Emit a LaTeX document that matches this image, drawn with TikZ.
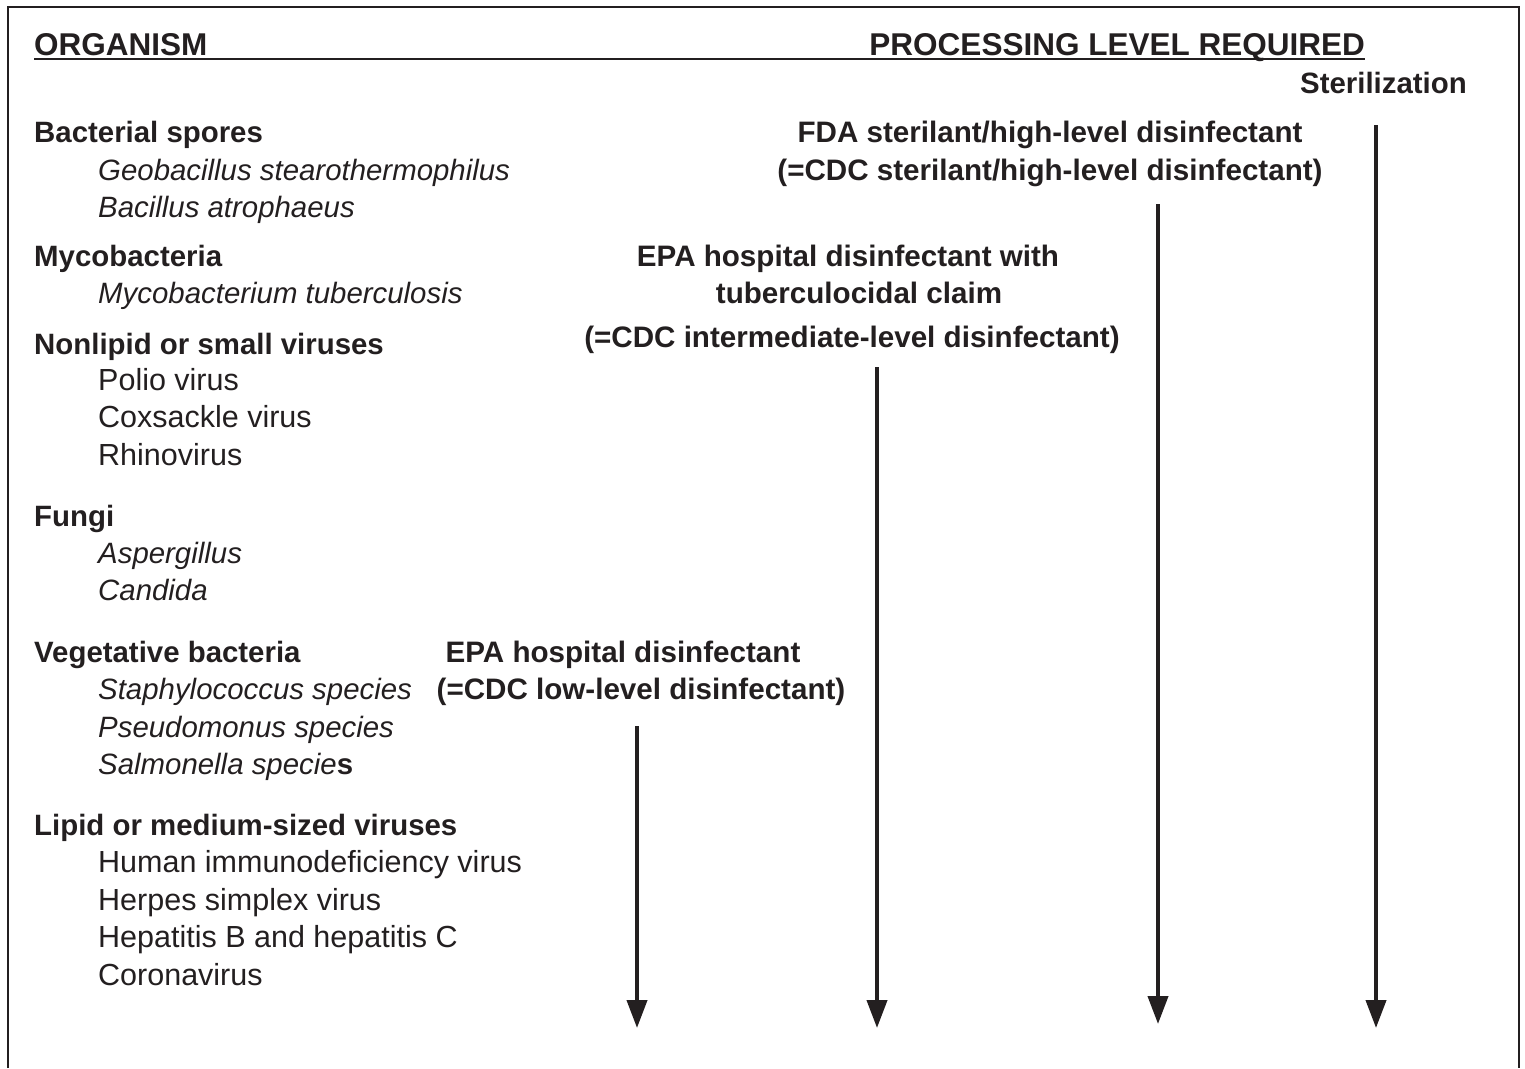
\documentclass[tikz,border=0pt]{standalone}
\usepackage{fontspec}
\setmainfont{Liberation Sans}
\usetikzlibrary{arrows.meta}
\definecolor{ink}{HTML}{231F20}
\tikzset{
  hdr/.style={anchor=base west, inner sep=0pt, font=\fontsize{31.5}{36}\selectfont\bfseries, text=ink},
  grp/.style={anchor=base west, inner sep=0pt, font=\fontsize{29.4}{34}\selectfont\bfseries, text=ink},
  item/.style={anchor=base west, inner sep=0pt, font=\fontsize{30.5}{34}\selectfont, text=ink},
  spec/.style={anchor=base west, inner sep=0pt, font=\fontsize{29.4}{34}\selectfont\itshape, text=ink},
  lvl/.style={anchor=base, inner sep=0pt, font=\fontsize{29.6}{34}\selectfont\bfseries, text=ink},
  flow/.style={line width=4pt, draw=ink, -{Triangle[width=20pt,length=28pt]}},
  frame/.style={line width=2pt, draw=ink}
}
\begin{document}
\begin{tikzpicture}[x=1pt,y=-1pt]
\useasboundingbox (0,0) rectangle (1525,1068);
\draw[frame] (8,1068) -- (8,7) -- (1519,7) -- (1519,1068);
% headers
\node[hdr] (org) at (34,55) {ORGANISM};
\node[hdr, anchor=base east] (plr) at (1365,55) {PROCESSING LEVEL REQUIRED};
\draw[line width=2pt, draw=ink] (org.base west) ++(0,3.5) coordinate (ul1) -- (ul1 -| plr.east);
\node[grp, anchor=base east] (ster) at (1467,93) {Sterilization};
% left column
\node[grp] (g1) at (34,142) {Bacterial spores};
\node[spec] (s11) at (98,180) {Geobacillus stearothermophilus};
\node[spec] (s12) at (98,217) {Bacillus atrophaeus};
\node[grp] (g2) at (34,266) {Mycobacteria};
\node[spec] (s21) at (98,303) {Mycobacterium tuberculosis};
\node[grp] (g3) at (34,354) {Nonlipid or small viruses};
\node[item] (s31) at (98,390) {Polio virus};
\node[item] (s32) at (98,427) {Coxsackle virus};
\node[item] (s33) at (98,465) {Rhinovirus};
\node[grp] (g4) at (34,526) {Fungi};
\node[spec] (s41) at (98,563) {Aspergillus};
\node[spec] (s42) at (98,600) {Candida};
\node[grp] (g5) at (34,662) {Vegetative bacteria};
\node[spec] (s51) at (98,699) {Staphylococcus species};
\node[spec] (s52) at (98,737) {Pseudomonus species};
\node[spec] (s53) at (98,774) {Salmonella specie{\upshape\bfseries s}};
\node[grp] (g6) at (34,835) {Lipid or medium-sized viruses};
\node[item] (s61) at (98,872) {Human immunodeficiency virus};
\node[item] (s62) at (98,910) {Herpes simplex virus};
\node[item] (s63) at (98,947) {Hepatitis B and hepatitis C};
\node[item] (s64) at (98,985) {Coronavirus};
% processing level labels
\node[lvl] (fda1) at (1050,142) {FDA sterilant/high-level disinfectant};
\node[lvl] (fda2) at (1050,180) {(=CDC sterilant/high-level disinfectant)};
\node[lvl] (tb1) at (848,266) {EPA hospital disinfectant with};
\node[lvl] (tb2) at (859,303) {tuberculocidal claim};
\node[lvl] (tb3) at (852,347) {(=CDC intermediate-level disinfectant)};
\node[lvl] (lo1) at (623,662) {EPA hospital disinfectant};
\node[lvl] (lo2) at (641,699) {(=CDC low-level disinfectant)};
% arrows
\coordinate (a1s) at (1376,125); \coordinate (a1e) at (1376,1028);
\coordinate (a2s) at (1158,204); \coordinate (a2e) at (1158,1024);
\coordinate (a3s) at (877,367);  \coordinate (a3e) at (877,1028);
\coordinate (a4s) at (637,726);  \coordinate (a4e) at (637,1028);
\draw[flow] (a1s) -- (a1e);
\draw[flow] (a2s) -- (a2e);
\draw[flow] (a3s) -- (a3e);
\draw[flow] (a4s) -- (a4e);
\end{tikzpicture}
\end{document}
